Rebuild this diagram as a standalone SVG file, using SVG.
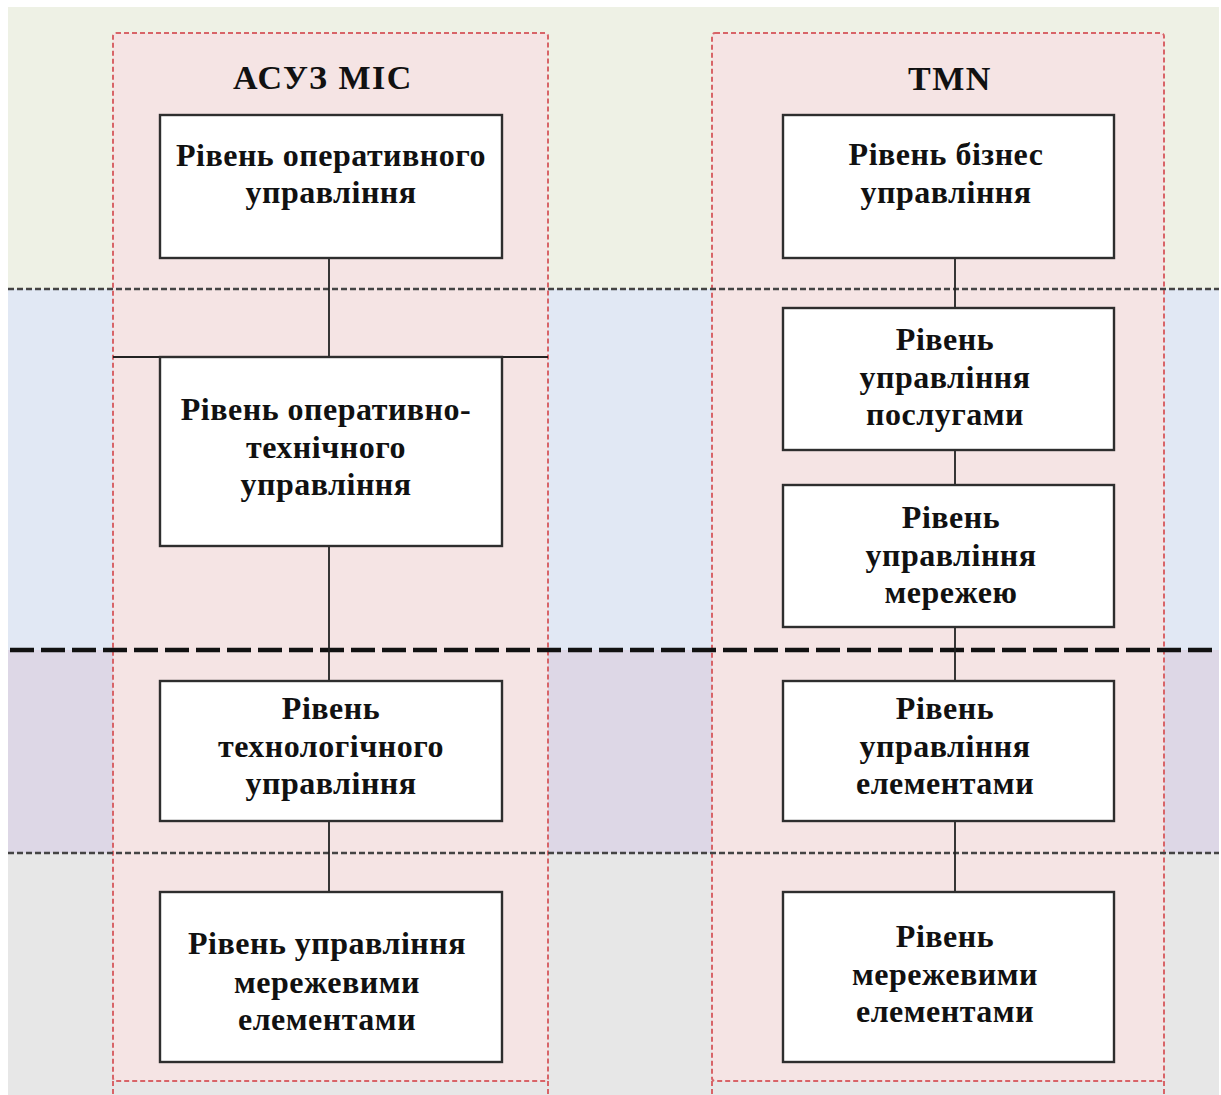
<svg xmlns="http://www.w3.org/2000/svg" width="1221" height="1095" viewBox="0 0 1221 1095">
  <style>
    .band-line { stroke: #444; stroke-width: 2.4; stroke-dasharray: 6 3; fill: none; }
    .band-line-thick { stroke: #111; stroke-width: 4.5; stroke-dasharray: 24 7; fill: none; }
    .column { fill: #f5e4e4; stroke: #d86468; stroke-width: 2; stroke-dasharray: 5 3; }
    .column-edge { stroke: #d86468; stroke-width: 2; stroke-dasharray: 5 3; fill: none; }
    .box { fill: #ffffff; stroke: #2e2e2e; stroke-width: 2.4; }
    .link { stroke: #222; stroke-width: 1.8; fill: none; }
    .label { font-family: "Liberation Serif", "Times New Roman", serif; font-weight: bold; font-size: 32px; letter-spacing: 0.5px; fill: #111; text-anchor: middle; }
    .title { font-family: "Liberation Serif", "Times New Roman", serif; font-weight: bold; font-size: 34px; letter-spacing: 1.5px; fill: #111; text-anchor: middle; }
  </style>

  <!-- background -->
  <rect x="0" y="0" width="1221" height="1095" fill="#ffffff"/>
  <g id="bands">
    <rect x="8" y="7" width="1211" height="282" fill="#eef1e5"/>
    <rect x="8" y="289" width="1211" height="361" fill="#e1e8f4"/>
    <rect x="8" y="650" width="1211" height="203" fill="#ddd7e6"/>
    <rect x="8" y="853" width="1211" height="242" fill="#e7e7e7"/>
  </g>

  <!-- system columns -->
  <g id="column-asuz">
    <rect class="column" x="113" y="33" width="435" height="1048" rx="3"/>
    <line class="column-edge" x1="113" y1="1081" x2="113" y2="1095"/>
    <line class="column-edge" x1="548" y1="1081" x2="548" y2="1095"/>
    <text class="title" x="323" y="89">АСУЗ МІС</text>
  </g>
  <g id="column-tmn">
    <rect class="column" x="712" y="33" width="452" height="1048" rx="3"/>
    <line class="column-edge" x1="712" y1="1081" x2="712" y2="1095"/>
    <line class="column-edge" x1="1164" y1="1081" x2="1164" y2="1095"/>
    <text class="title" x="950" y="90">TMN</text>
  </g>

  <!-- level separators -->
  <g id="separators">
    <line class="band-line" x1="8" y1="289" x2="1219" y2="289"/>
    <line class="band-line-thick" x1="10" y1="650" x2="1219" y2="650"/>
    <line class="band-line" x1="8" y1="853" x2="1219" y2="853"/>
  </g>

  <!-- connectors -->
  <g id="connectors">
    <line class="link" x1="329" y1="258" x2="329" y2="357"/>
    <line class="link" x1="113" y1="357" x2="548" y2="357"/>
    <line class="link" x1="329" y1="546" x2="329" y2="681"/>
    <line class="link" x1="329" y1="821" x2="329" y2="892"/>
    <line class="link" x1="955" y1="258" x2="955" y2="308"/>
    <line class="link" x1="955" y1="450" x2="955" y2="485"/>
    <line class="link" x1="955" y1="627" x2="955" y2="681"/>
    <line class="link" x1="955" y1="821" x2="955" y2="892"/>
  </g>

  <!-- АСУЗ МІС levels -->
  <g id="asuz-operative">
    <rect class="box" x="160" y="115" width="342" height="143"/>
    <text class="label" x="331" y="166">Рівень оперативного</text>
    <text class="label" x="331" y="203">управління</text>
  </g>
  <g id="asuz-operative-technical">
    <rect class="box" x="160" y="357" width="342" height="189"/>
    <text class="label" x="326" y="420">Рівень оперативно-</text>
    <text class="label" x="326" y="458">технічного</text>
    <text class="label" x="326" y="495">управління</text>
  </g>
  <g id="asuz-technological">
    <rect class="box" x="160" y="681" width="342" height="140"/>
    <text class="label" x="331" y="719">Рівень</text>
    <text class="label" x="331" y="757">технологічного</text>
    <text class="label" x="331" y="794">управління</text>
  </g>
  <g id="asuz-network-elements">
    <rect class="box" x="160" y="892" width="342" height="170"/>
    <text class="label" x="327" y="954">Рівень управління</text>
    <text class="label" x="327" y="993">мережевими</text>
    <text class="label" x="327" y="1030">елементами</text>
  </g>

  <!-- TMN levels -->
  <g id="tmn-business">
    <rect class="box" x="783" y="115" width="331" height="143"/>
    <text class="label" x="946" y="165">Рівень бізнес</text>
    <text class="label" x="946" y="203">управління</text>
  </g>
  <g id="tmn-service">
    <rect class="box" x="783" y="308" width="331" height="142"/>
    <text class="label" x="945" y="350">Рівень</text>
    <text class="label" x="945" y="388">управління</text>
    <text class="label" x="945" y="425">послугами</text>
  </g>
  <g id="tmn-network">
    <rect class="box" x="783" y="485" width="331" height="142"/>
    <text class="label" x="951" y="528">Рівень</text>
    <text class="label" x="951" y="566">управління</text>
    <text class="label" x="951" y="603">мережею</text>
  </g>
  <g id="tmn-element">
    <rect class="box" x="783" y="681" width="331" height="140"/>
    <text class="label" x="945" y="719">Рівень</text>
    <text class="label" x="945" y="757">управління</text>
    <text class="label" x="945" y="794">елементами</text>
  </g>
  <g id="tmn-network-elements">
    <rect class="box" x="783" y="892" width="331" height="170"/>
    <text class="label" x="945" y="947">Рівень</text>
    <text class="label" x="945" y="985">мережевими</text>
    <text class="label" x="945" y="1022">елементами</text>
  </g>
</svg>
